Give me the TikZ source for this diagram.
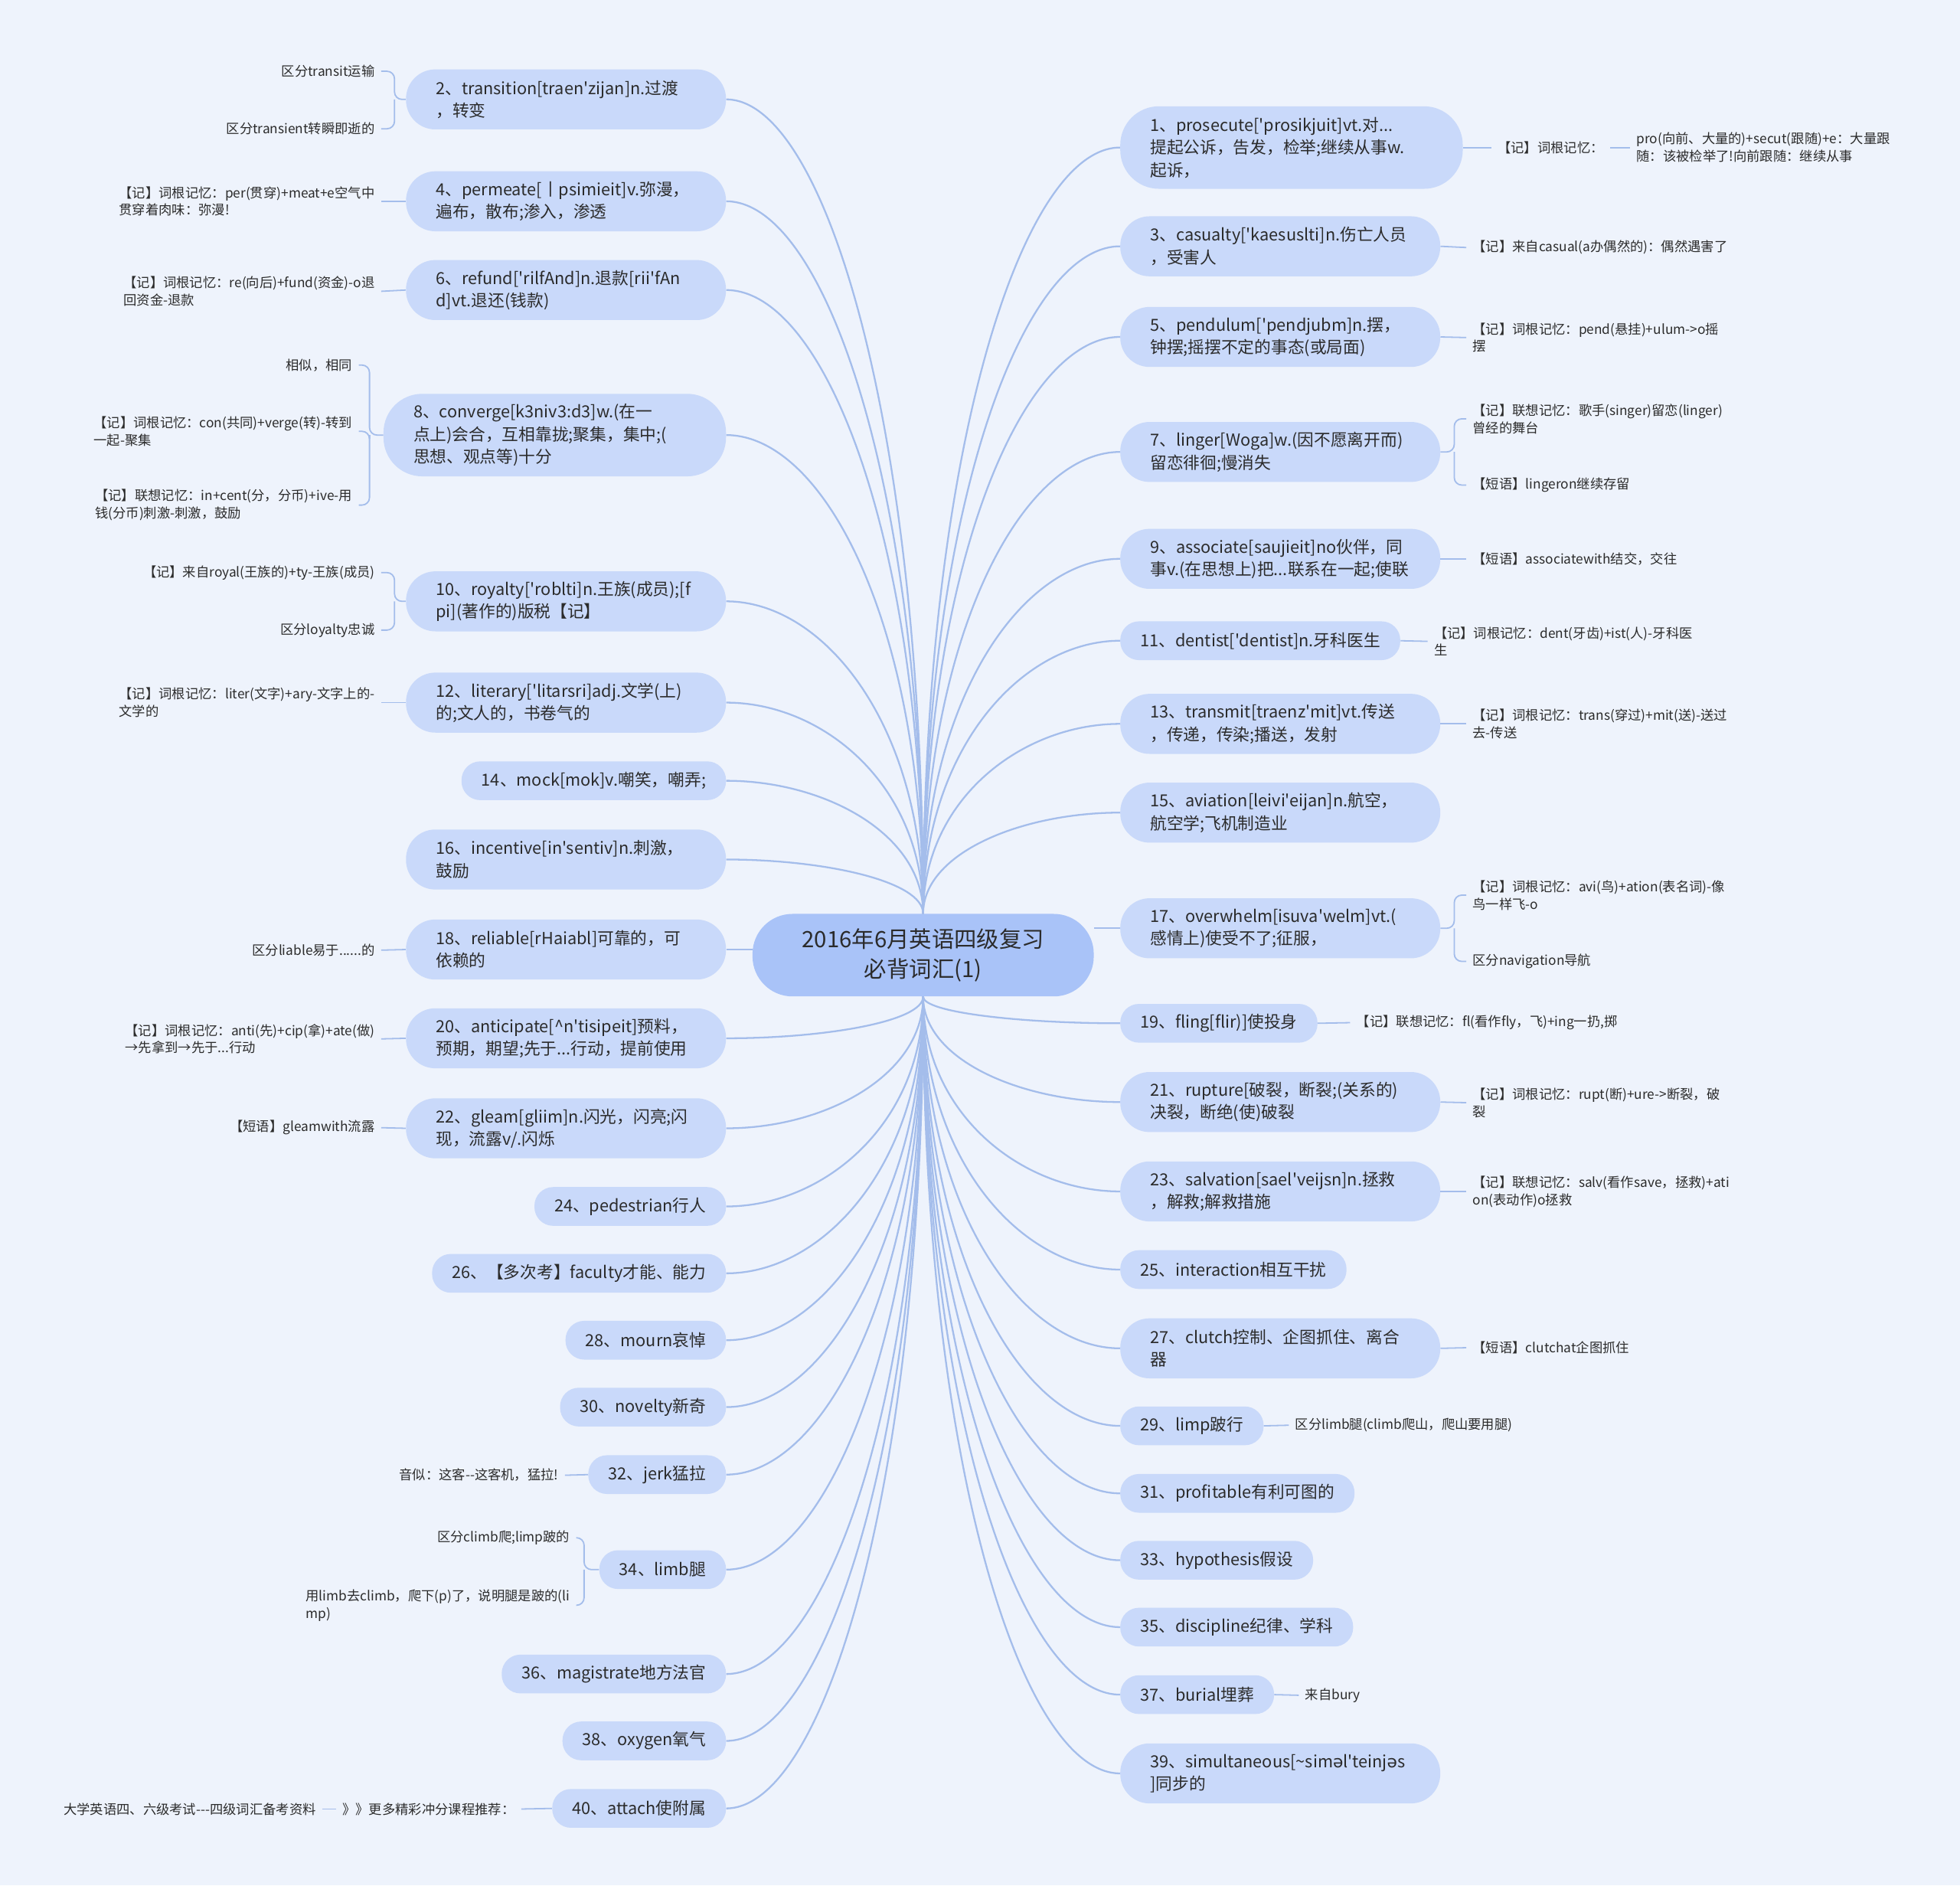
\documentclass[tikz,border=0pt]{standalone}
\usepackage{fontspec}
\newfontfamily\cjk{Noto Sans CJK SC}
\newfontfamily\ipa{DejaVu Sans}
\usetikzlibrary{positioning,calc}
\definecolor{mmInk}{HTML}{2B2B2B}
\definecolor{mmPaper}{HTML}{EEF3FC}
\definecolor{mmRoot}{HTML}{A9C3F8}
\definecolor{mmWord}{HTML}{C9D9FA}
\definecolor{mmLine}{HTML}{A4BDEB}
\tikzset{
  root/.style   ={fill=mmRoot,rounded corners=32pt,minimum width=273pt,minimum height=66pt,
                  align=center,text=mmInk,font=\cjk\fontsize{18}{24}\selectfont},
  word/.style   ={fill=mmWord,text=mmInk,inner ysep=0pt,font=\cjk\fontsize{13.3}{18}\selectfont},
  wone/.style   ={word,rounded corners=15pt,minimum height=31pt,inner xsep=16pt},
  wtwo/.style   ={word,rounded corners=23.5pt,minimum height=48pt,inner xsep=24pt,
                  text width=208pt,align=left},
  wthree/.style ={word,rounded corners=31pt,minimum height=66pt,inner xsep=24pt,
                  text width=226pt,align=left},
  memo/.style   ={text=mmInk,inner xsep=5pt,inner ysep=1pt,align=left,
                  font=\cjk\fontsize{10.6}{14}\selectfont},
  trunk/.style  ={mmLine,line width=1.4pt},
  twig/.style   ={mmLine,line width=1.1pt,rounded corners=6pt},
}
\begin{document}
\begin{tikzpicture}[x=1pt,y=-1pt]
\fill[mmPaper] (0,0) rectangle (1568,1508);
\useasboundingbox (0,0) rectangle (1568,1508);

\node[root] (root) at (738.5,764) {2016年6月英语四级复习\\必背词汇(1)};

%% left words
\node[wtwo,anchor=east]   (w2)  at (581,79.5)  {2、transition[traen'zijan]n.过渡\\，转变};
\node[wtwo,anchor=east]   (w4)  at (581,161)   {4、permeate[丨psimieit]v.弥漫，\\遍布，散布;渗入，渗透};
\node[wtwo,anchor=east]   (w6)  at (581,232)   {6、refund['rilfAnd]n.退款[rii'fAn\\d]vt.退还(钱款)};
\node[wthree,anchor=east] (w8)  at (581,348)   {8、converge[k3niv3:d3]w.(在一\\点上)会合，互相靠拢;聚集，集中;(\\思想、观点等)十分};
\node[wtwo,anchor=east]   (w10) at (581,481)   {10、royalty['roblti]n.王族(成员);[f\\pi](著作的)版税【记】};
\node[wtwo,anchor=east]   (w12) at (581,562)   {12、literary['litarsri]adj.文学(上)\\的;文人的，书卷气的};
\node[wone,anchor=east]   (w14) at (581,624.5) {14、mock[mok]v.嘲笑，嘲弄;};
\node[wtwo,anchor=east]   (w16) at (581,687.5) {16、incentive[in'sentiv]n.刺激，\\鼓励};
\node[wtwo,anchor=east]   (w18) at (581,759.5) {18、reliable[rHaiabl]可靠的，可\\依赖的};
\node[wtwo,anchor=east]   (w20) at (581,830.5) {20、anticipate[\textasciicircum n'tisipeit]预料，\\预期，期望;先于...行动，提前使用};
\node[wtwo,anchor=east]   (w22) at (581,902.5) {22、gleam[gliim]n.闪光，闪亮;闪\\现，流露v/.闪烁};
\node[wone,anchor=east]   (w24) at (581,965)   {24、pedestrian行人};
\node[wone,anchor=east]   (w26) at (581,1018.5){26、【多次考】faculty才能、能力};
\node[wone,anchor=east]   (w28) at (581,1072)  {28、mourn哀悼};
\node[wone,anchor=east]   (w30) at (581,1125.5){30、novelty新奇};
\node[wone,anchor=east]   (w32) at (581,1179.5){32、jerk猛拉};
\node[wone,anchor=east]   (w34) at (581,1255.5){34、limb腿};
\node[wone,anchor=east]   (w36) at (581,1339)  {36、magistrate地方法官};
\node[wone,anchor=east]   (w38) at (581,1392.5){38、oxygen氧气};
\node[wone,anchor=east]   (w40) at (581,1446.5){40、attach使附属};

%% right words
\node[wthree,anchor=west] (w1)  at (896,118)   {1、prosecute['prosikjuit]vt.对...\\提起公诉，告发，检举;继续从事w.\\起诉，};
\node[wtwo,anchor=west]   (w3)  at (896,197)   {3、casualty['kaesuslti]n.伤亡人员\\，受害人};
\node[wtwo,anchor=west]   (w5)  at (896,269.5) {5、pendulum['pendjubm]n.摆，\\钟摆;摇摆不定的事态(或局面)};
\node[wtwo,anchor=west]   (w7)  at (896,361.5) {7、linger[Woga]w.(因不愿离开而)\\留恋徘徊;慢消失};
\node[wtwo,anchor=west]   (w9)  at (896,447)   {9、associate[saujieit]no伙伴，同\\事v.(在思想上)把...联系在一起;使联};
\node[wone,anchor=west]   (w11) at (896,512.5) {11、dentist['dentist]n.牙科医生};
\node[wtwo,anchor=west]   (w13) at (896,579)   {13、transmit[traenz'mit]vt.传送\\，传递，传染;播送，发射};
\node[wtwo,anchor=west]   (w15) at (896,650)   {15、aviation[leivi'eijan]n.航空，\\航空学;飞机制造业};
\node[wtwo,anchor=west]   (w17) at (896,742.5) {17、overwhelm[isuva'welm]vt.(\\感情上)使受不了;征服，};
\node[wone,anchor=west]   (w19) at (896,818.5) {19、fling[flir)]使投身};
\node[wtwo,anchor=west]   (w21) at (896,881.5) {21、rupture[破裂，断裂;(关系的)\\决裂，断绝(使)破裂};
\node[wtwo,anchor=west]   (w23) at (896,953)   {23、salvation[sael'veijsn]n.拯救\\，解救;解救措施};
\node[wone,anchor=west]   (w25) at (896,1015.5){25、interaction相互干扰};
\node[wtwo,anchor=west]   (w27) at (896,1078.5){27、clutch控制、企图抓住、离合\\器};
\node[wone,anchor=west]   (w29) at (896,1140.5){29、limp跛行};
\node[wone,anchor=west]   (w31) at (896,1194.5){31、profitable有利可图的};
\node[wone,anchor=west]   (w33) at (896,1248)  {33、hypothesis假设};
\node[wone,anchor=west]   (w35) at (896,1301.5){35、discipline纪律、学科};
\node[wone,anchor=west]   (w37) at (896,1355.5){37、burial埋葬};
\node[wtwo,anchor=west]   (w39) at (896,1418.5){39、simultaneous[\textasciitilde sim{\ipa ə}l'teinj{\ipa ə}s\\]同步的};

%% trunk lines
\foreach \n in {2,4,...,16}
  \draw[trunk] (root.north) .. controls ($(root.north)!0.6!(root.north |- w\n.east)$)
    and ($(w\n.east)!0.5!(root.north |- w\n.east)$) .. (w\n.east);
\foreach \n in {20,22,...,40}
  \draw[trunk] (root.south) .. controls ($(root.south)!0.6!(root.south |- w\n.east)$)
    and ($(w\n.east)!0.5!(root.south |- w\n.east)$) .. (w\n.east);
\foreach \n in {1,3,...,15}
  \draw[trunk] (root.north) .. controls ($(root.north)!0.6!(root.north |- w\n.west)$)
    and ($(w\n.west)!0.5!(root.north |- w\n.west)$) .. (w\n.west);
\foreach \n in {19,21,...,39}
  \draw[trunk] (root.south) .. controls ($(root.south)!0.6!(root.south |- w\n.west)$)
    and ($(w\n.west)!0.5!(root.south |- w\n.west)$) .. (w\n.west);
\draw[trunk] (w18.east) -- (w18.east -| root.west);
\draw[trunk] (w17.west) -- (w17.west -| root.east);

%% left notes
\node[memo,anchor=east] (t2a) at (305,57)   {区分transit运输};
\node[memo,anchor=east] (t2b) at (305,103)  {区分transient转瞬即逝的};
\node[memo,anchor=east] (t4)  at (305,161)  {【记】词根记忆：per(贯穿)+meat+e空气中\\贯穿着肉味：弥漫!};
\node[memo,anchor=east] (t6)  at (305,233)  {【记】词根记忆：re(向后)+fund(资金)-o退\\回资金-退款};
\node[memo,anchor=east] (t8a) at (287,292)  {相似，相同};
\node[memo,anchor=east] (t8b) at (287,345)  {【记】词根记忆：con(共同)+verge(转)-转到\\一起-聚集};
\node[memo,anchor=east] (t8c) at (287,404)  {【记】联想记忆：in+cent(分，分币)+ive-用\\钱(分币)刺激-刺激，鼓励};
\node[memo,anchor=east] (t10a) at (305,458) {【记】来自royal(王族的)+ty-王族(成员)};
\node[memo,anchor=east] (t10b) at (305,504) {区分loyalty忠诚};
\node[memo,anchor=east] (t12) at (305,562)  {【记】词根记忆：liter(文字)+ary-文字上的-\\文学的};
\node[memo,anchor=east] (t18) at (305,760)  {区分liable易于......的};
\node[memo,anchor=east] (t20) at (305,831)  {【记】词根记忆：anti(先)+cip(拿)+ate(做)\\→先拿到→先于...行动};
\node[memo,anchor=east] (t22) at (305,902)  {【短语】gleamwith流露};
\node[memo,anchor=east] (t32) at (452,1180) {音似：这客--这客机，猛拉!};
\node[memo,anchor=east] (t34a) at (461,1230){区分climb爬;limp跛的};
\node[memo,anchor=east] (t34b) at (461,1284){用limb去climb，爬下(p)了，说明腿是跛的(li\\mp)};
\node[memo,anchor=east] (t40a) at (417,1447){》》更多精彩冲分课程推荐：};
\node[memo,anchor=east] (t40b) at (258,1447){大学英语四、六级考试---四级词汇备考资料};

%% right notes
\node[memo,anchor=west] (t1a) at (1193,118) {【记】词根记忆：};
\node[memo,anchor=west] (t1b) at (1304,118) {pro(向前、大量的)+secut(跟随)+e：大量跟\\随：该被检举了!向前跟随：继续从事};
\node[memo,anchor=west] (t3)  at (1173,198) {【记】来自casual(a办偶然的)：偶然遇害了};
\node[memo,anchor=west] (t5)  at (1173,270) {【记】词根记忆：pend(悬挂)+ulum->o摇\\摆};
\node[memo,anchor=west] (t7a) at (1173,335) {【记】联想记忆：歌手(singer)留恋(linger)\\曾经的舞台};
\node[memo,anchor=west] (t7b) at (1173,388) {【短语】lingeron继续存留};
\node[memo,anchor=west] (t9)  at (1173,447) {【短语】associatewith结交，交往};
\node[memo,anchor=west] (t11) at (1142,513) {【记】词根记忆：dent(牙齿)+ist(人)-牙科医\\生};
\node[memo,anchor=west] (t13) at (1173,579) {【记】词根记忆：trans(穿过)+mit(送)-送过\\去-传送};
\node[memo,anchor=west] (t17a) at (1173,716){【记】词根记忆：avi(鸟)+ation(表名词)-像\\鸟一样飞-o};
\node[memo,anchor=west] (t17b) at (1173,769){区分navigation导航};
\node[memo,anchor=west] (t19) at (1080,818) {【记】联想记忆：fl(看作fly，飞)+ing一扔,掷};
\node[memo,anchor=west] (t21) at (1173,882) {【记】词根记忆：rupt(断)+ure->断裂，破\\裂};
\node[memo,anchor=west] (t23) at (1173,953) {【记】联想记忆：salv(看作save，拯救)+ati\\on(表动作)o拯救};
\node[memo,anchor=west] (t27) at (1173,1078){【短语】clutchat企图抓住};
\node[memo,anchor=west] (t29) at (1031,1140){区分limb腿(climb爬山，爬山要用腿)};
\node[memo,anchor=west] (t37) at (1039,1356){来自bury};

%% note links
\foreach \n in {4,6,12,18,20,22,32}
  \draw[twig] (w\n.west) -- (t\n.east);
\foreach \n in {3,5,9,11,13,19,21,23,27,29,37}
  \draw[twig] (w\n.east) -- (t\n.west);
\draw[twig] (w1.east) -- (t1a.west);
\draw[twig] (t1a.east) -- (t1b.west);
\draw[twig] (w40.west) -- (t40a.east);
\draw[twig] (t40a.west) -- (t40b.east);

% brackets
\coordinate (k2)  at ([xshift=-9pt]w2.west);
\coordinate (k8)  at ([xshift=-11pt]w8.west);
\coordinate (k10) at ([xshift=-9pt]w10.west);
\coordinate (k34) at ([xshift=-12pt]w34.west);
\coordinate (k7)  at ([xshift=11pt]w7.east);
\coordinate (k17) at ([xshift=11pt]w17.east);
\draw[twig] (w2.west) -- (k2) |- (t2a.east);
\draw[twig] (k2) |- (t2b.east);
\draw[twig] (w8.west) -- (k8) |- (t8a.east);
\draw[twig] (k8) |- (t8b.east);
\draw[twig] (k8) |- (t8c.east);
\draw[twig] (w10.west) -- (k10) |- (t10a.east);
\draw[twig] (k10) |- (t10b.east);
\draw[twig] (w34.west) -- (k34) |- (t34a.east);
\draw[twig] (k34) |- (t34b.east);
\draw[twig] (w7.east) -- (k7) |- (t7a.west);
\draw[twig] (k7) |- (t7b.west);
\draw[twig] (w17.east) -- (k17) |- (t17a.west);
\draw[twig] (k17) |- (t17b.west);
\end{tikzpicture}
\end{document}
